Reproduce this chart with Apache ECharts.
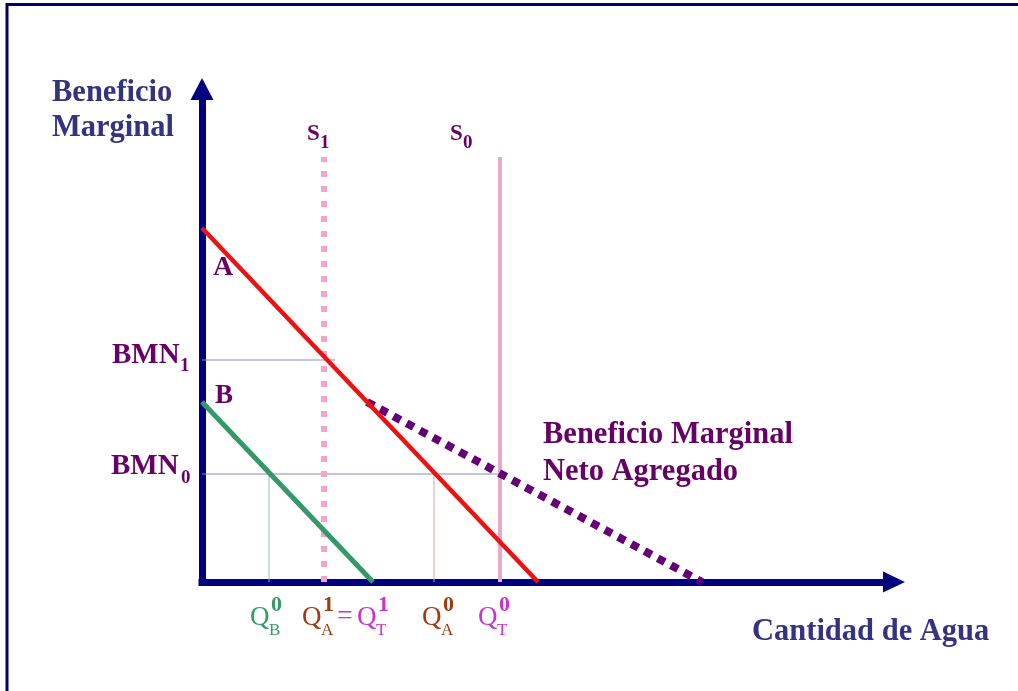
<!DOCTYPE html>
<html>
<head>
<meta charset="utf-8">
<script src="https://cdn.jsdelivr.net/npm/echarts@6/dist/echarts.min.js"></script>
<style>
html, body { margin: 0; padding: 0; background: #fff; }
#chart { width: 1018px; height: 691px; }
</style>
</head>
<body>
<div id="chart"></div>
<script>
// axis ranges (quantity / benefit units)
const xMax = 692;
const yMax = 493;

// marginal benefit curves: [quantity, benefit]
const curveA = [[0, 354], [336, 0]];
const curveB = [[0, 180], [171, 0]];
const curveAgg = [[165, 180], [500, 0]];

// available water
const supply1 = [[122, 0], [122, 425]];
const supply0 = [[298, 0], [298, 425]];

// net marginal benefit levels and quantities
const bmn1 = 222;
const bmn0 = 108;
const qB0 = 67;
const qA0 = 232;
const bmn1End = 133;

const SERIF = '"Liberation Serif", "DejaVu Serif", serif';

const chart = echarts.init(document.getElementById('chart'));

const line = (data, color, width, type, z) => ({
	type: 'line',
	data,
	symbol: 'none',
	silent: true,
	animation: false,
	z,
	lineStyle: { color, width, type, cap: 'butt' }
});

chart.setOption({
	backgroundColor: '#ffffff',
	animation: false,
	grid: { left: 202, right: 124, top: 89, bottom: 109 },
	xAxis: {
		type: 'value',
		min: 0,
		max: xMax,
		axisLine: {
			lineStyle: { color: '#000080', width: 7, cap: 'square' },
			symbol: ['none', 'triangle'],
			symbolSize: [21, 22]
		},
		axisTick: { show: false },
		axisLabel: { show: false },
		splitLine: { show: false }
	},
	yAxis: {
		type: 'value',
		min: 0,
		max: yMax,
		axisLine: {
			lineStyle: { color: '#000080', width: 7, cap: 'square' },
			symbol: ['none', 'triangle'],
			symbolSize: [23, 22]
		},
		axisTick: { show: false },
		axisLabel: { show: false },
		splitLine: { show: false }
	},
	series: [
		line([[0, bmn1], [bmn1End, bmn1]], '#8c8cb0', 1, 'solid', 1),
		line([[0, bmn0], [supply0[0][0], bmn0]], '#8c8cb0', 1, 'solid', 1),
		line([[qB0, 0], [qB0, bmn0]], '#a0b0b0', 1, 'solid', 1),
		line([[qA0, 0], [qA0, bmn0]], '#d8a8a8', 1, 'solid', 1),
		line(supply1, '#f4a4cc', 6, [6, 9], 2),
		line(supply0, '#eaa6cc', 4, 'solid', 2),
		line(curveAgg, '#660077', 8, [8, 7], 3),
		line(curveB, '#339966', 5, 'solid', 4),
		line(curveA, '#ee1111', 4.5, 'solid', 4)
	]
});

const px = (x, y) => chart.convertToPixel({ gridIndex: 0 }, [x, y]);

const txt = (text, x, y, size, fill, weight) => ({
	type: 'text',
	x,
	y,
	silent: true,
	style: {
		text,
		fill,
		font: (weight || 'bold') + ' ' + size + 'px ' + SERIF,
		verticalAlign: 'middle'
	}
});

const purple = '#660066';
const navyText = '#333380';
const green = '#339966';
const brown = '#a03a10';
const magenta = '#cc33cc';

const s1x = px(supply1[0][0], 0)[0];
const s0x = px(supply0[0][0], 0)[0];
const yB1 = px(0, bmn1)[1];
const yB0 = px(0, bmn0)[1];
const xQB = px(qB0, 0)[0];
const xQA = px(qA0, 0)[0];

// Q with superscript and subscript
const q = (left, sup, sub, color) => [
	txt('Q', left, 618, 27, color, 'normal'),
	txt(sup, left + 21, 605, 22, color, 'bold'),
	txt(sub, left + 19, 631, 17, color, 'normal')
];

const elements = [
	{
		type: 'rect',
		silent: true,
		shape: { x: 7, y: 4.5, width: 1100, height: 800 },
		style: { fill: 'none', stroke: '#000066', lineWidth: 3 }
	},
	txt('Beneficio', 52, 93, 30.5, navyText),
	txt('Marginal', 52, 128, 30.5, navyText),
	txt('Cantidad de Agua', 752, 632, 30.5, navyText),
	txt('S', s1x - 17, 134, 23, purple),
	txt('1', s1x - 4, 143, 19, purple),
	txt('S', s0x - 50, 134, 23, purple),
	txt('0', s0x - 37, 143, 19, purple),
	txt('A', 213, 268, 28, purple),
	txt('B', 215, 396, 27, purple),
	txt('BMN', 112, yB1 - 4, 29, purple),
	txt('1', 180, yB1 + 6, 19, purple),
	txt('BMN', 111, yB0 - 7, 29, purple),
	txt('0', 181, yB0 + 4, 19, purple),
	txt('Beneficio Marginal', 543, 435, 30.5, purple),
	txt('Neto Agregado', 543, 472, 30.5, purple),
	...q(xQB - 19, '0', 'B', green),
	...q(s1x - 22, '1', 'A', brown),
	txt('=', s1x + 13, 617, 28, '#aa44bb', 'normal'),
	...q(s1x + 33, '1', 'T', magenta),
	...q(xQA - 12, '0', 'A', brown),
	...q(s0x - 22, '0', 'T', magenta)
];

chart.setOption({ graphic: { elements } });
</script>
</body>
</html>
